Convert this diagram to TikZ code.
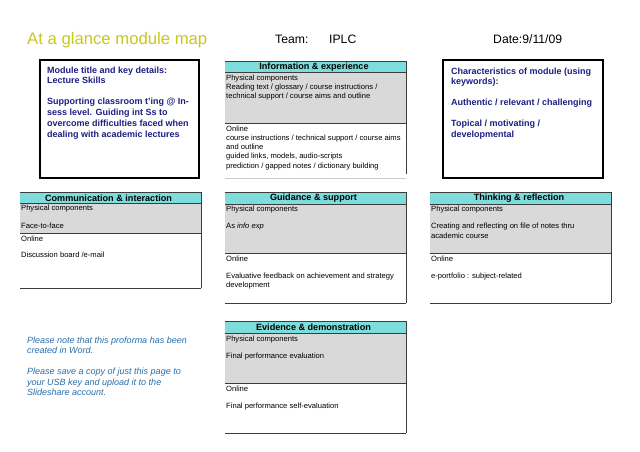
\documentclass[tikz,border=0pt]{standalone}
\usepackage{fontspec}
\setmainfont{Liberation Sans}
\definecolor{titlecol}{RGB}{200,200,30}
\definecolor{navy}{RGB}{30,30,130}
\definecolor{hdr}{RGB}{125,220,220}
\definecolor{grayfill}{RGB}{217,217,217}
\definecolor{notecol}{RGB}{40,110,170}
\definecolor{rule}{RGB}{60,60,60}
\tikzset{
  body/.style={anchor=north west, inner sep=0pt, align=left, font=\fontsize{7.6}{9.3}\selectfont},
  hdrtext/.style={inner sep=0pt, font=\fontsize{9.1}{10}\selectfont\bfseries},
  keytext/.style={anchor=north west, inner sep=0pt, align=left, text=navy, font=\fontsize{9}{10.7}\selectfont\bfseries},
  notetext/.style={anchor=north west, inner sep=0pt, align=left, text=notecol, font=\fontsize{9}{10.5}\selectfont\itshape},
  hdrbox/.style={fill=hdr, draw=none},
  graybox/.style={fill=grayfill, draw=none},
  darkrule/.style={draw=rule, line width=0.8pt},
  lightrule/.style={draw=black!20, line width=0.6pt},
  keybox/.style={draw=black, line width=1.8pt, fill=white}
}
\begin{document}
\begin{tikzpicture}[x=1pt,y=-1pt]
\useasboundingbox[fill=white] (0,0) rectangle (640,452);

% heading
\node[anchor=base west, inner sep=0pt, text=titlecol, font=\fontsize{16.7}{18}\selectfont] (title) at (27,45) {At a glance module map};
\node[anchor=base west, inner sep=0pt, font=\fontsize{12.2}{14}\selectfont] (team) at (275,44) {Team:};
\node[anchor=base west, inner sep=0pt, font=\fontsize{12.2}{14}\selectfont] (teamname) at (329,44) {IPLC};
\node[anchor=base west, inner sep=0pt, font=\fontsize{12.2}{14}\selectfont] (date) at (493,44) {Date:9/11/09};

% module box
\draw[keybox] (40,60) rectangle (199,178);
\node[keytext] (modtext) at (47,66.5) {Module title and key details:\\Lecture Skills\\[10.3pt]Supporting classroom t'ing @ In-\\sess level. Guiding int Ss to\\overcome difficulties faced when\\dealing with academic lectures};

% characteristics box
\draw[keybox] (443,60) rectangle (603,178);
\node[keytext] (chartext) at (451,67.5) {Characteristics of module (using\\keywords):\\[10.3pt]Authentic / relevant / challenging\\[10.3pt]Topical / motivating /\\developmental};

% Information & experience
\fill[graybox] (225,72) rectangle (406,123);
\fill[hdrbox] (225,61) rectangle (406,72);
\draw[darkrule] (225,61) -- (406,61);
\draw[darkrule] (225,72) -- (406,72);
\draw[darkrule] (225,123) -- (406,123);
\draw[darkrule] (406,61) -- (406,174);
\draw[lightrule] (225,178) -- (406,178);
\node[hdrtext] (infohdr) at (314,66.8) {Information \& experience};
\node[body] (infophys) at (226,74.5) {Physical components\\Reading text / glossary / course instructions /\\technical support / course aims and outline};
\node[body] (infoonl) at (226,125.3) {Online\\course instructions / technical support / course aims\\and outline\\guided links, models, audio-scripts\\prediction / gapped notes / dictionary building};

% Communication & interaction
\fill[graybox] (20,203) rectangle (201,233);
\fill[hdrbox] (20,192) rectangle (201,203);
\draw[darkrule] (20,192) -- (201,192);
\draw[darkrule] (20,203) -- (201,203);
\draw[darkrule] (20,233) -- (201,233);
\draw[darkrule] (201,192) -- (201,288);
\draw[darkrule] (20,288) -- (201,288);
\node[hdrtext] (commhdr) at (108.5,197.8) {Communication \& interaction};
\node[body] (commphys) at (21,205) {Physical components\\[8.3pt]Face-to-face};
\node[body] (commonl) at (21,235.3) {Online\\[7.5pt]Discussion board /e-mail};

% Guidance & support
\fill[graybox] (225,204) rectangle (406,253);
\fill[hdrbox] (225,192) rectangle (406,204);
\draw[darkrule] (225,192) -- (406,192);
\draw[darkrule] (225,204) -- (406,204);
\draw[darkrule] (225,253) -- (406,253);
\draw[darkrule] (406,192) -- (406,303);
\draw[darkrule] (225,303) -- (406,303);
\node[hdrtext] (guidhdr) at (313.5,198.2) {Guidance \& support};
\node[body] (guidphys) at (226,205.5) {Physical components\\[8.3pt]As \textit{info exp}};
\node[body] (guidonl) at (226,255.3) {Online\\[8.3pt]Evaluative feedback on achievement and strategy\\development};

% Thinking & reflection
\fill[graybox] (430,204) rectangle (611,253);
\fill[hdrbox] (430,192) rectangle (611,204);
\draw[darkrule] (430,192) -- (611,192);
\draw[darkrule] (430,204) -- (611,204);
\draw[darkrule] (430,253) -- (611,253);
\draw[darkrule] (611,192) -- (611,303);
\draw[darkrule] (430,303) -- (611,303);
\node[hdrtext] (thinkhdr) at (519,198.2) {Thinking \& reflection};
\node[body] (thinkphys) at (431,205.5) {Physical components\\[8.3pt]Creating and reflecting on file of notes thru\\academic course};
\node[body] (thinkonl) at (431,255.3) {Online\\[8.3pt]e-portfolio : subject-related};

% Evidence & demonstration
\fill[graybox] (225,333) rectangle (406,383);
\fill[hdrbox] (225,321) rectangle (406,333);
\draw[darkrule] (225,321) -- (406,321);
\draw[darkrule] (225,333) -- (406,333);
\draw[darkrule] (225,383) -- (406,383);
\draw[darkrule] (406,321) -- (406,433);
\draw[darkrule] (225,433) -- (406,433);
\node[hdrtext] (evidhdr) at (313.5,327.2) {Evidence \& demonstration};
\node[body] (evidphys) at (226,335.5) {Physical components\\[8.3pt]Final performance evaluation};
\node[body] (evidonl) at (226,385.3) {Online\\[8.3pt]Final performance self-evaluation};

% note
\node[notetext] (note) at (27,336.5) {Please note that this proforma has been\\created in Word.\\[10.5pt]Please save a copy of just this page to\\your USB key and upload it to the\\Slideshare account.};
\end{tikzpicture}
\end{document}
